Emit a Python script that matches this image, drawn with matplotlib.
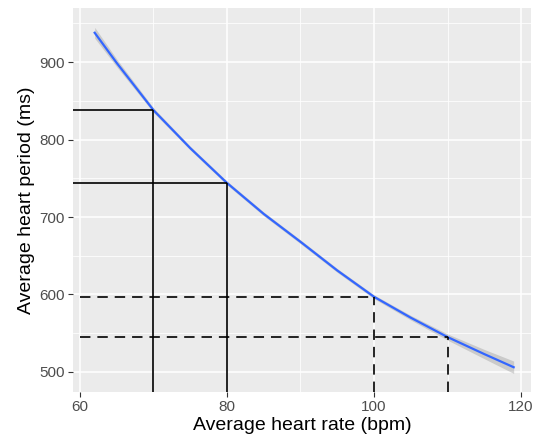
import numpy as np
import matplotlib
matplotlib.use("Agg")
import matplotlib.pyplot as plt

# Smoothed fit
hr = [62, 65, 70, 75, 80, 85, 90, 95, 100, 105, 110, 115, 119]
period = [938, 899, 838, 789, 744, 704, 668, 631, 597, 570, 545, 523, 506]
se = [7, 5, 3, 2.5, 2.5, 2.5, 2.5, 2.5, 2.5, 3, 4, 6, 8]

# Reference lines
solid_hr = [70, 80]
solid_period = [838, 744]
dashed_hr = [100, 110]
dashed_period = [597, 545]

xticks = [60, 80, 100, 120]
yticks = [500, 600, 700, 800, 900]

plt.rcParams['font.family'] = ['Liberation Sans', 'DejaVu Sans']

fig = plt.figure(figsize=(5.34, 4.45), dpi=100)
ax = fig.add_axes([73/534, 1-392/445, (531-73)/534, (392-8)/445])
ax.set_facecolor('#EBEBEB')
xlim = (59.05, 121.36)
ylim = (474, 970)
ax.set_xlim(*xlim)
ax.set_ylim(*ylim)

ax.set_xticks(xticks)
ax.set_yticks(yticks)
ax.set_xticks([70, 90, 110], minor=True)
ax.set_yticks([550, 650, 750, 850, 950], minor=True)
ax.grid(True, which='major', color='white', lw=1.1)
ax.grid(True, which='minor', color='white', lw=0.55)
ax.set_axisbelow(True)
for s in ax.spines.values():
    s.set_visible(False)
ax.tick_params(which='major', length=3.5, width=0.8, color='#333333',
               labelcolor='#4D4D4D', labelsize=11, pad=2.5)
ax.tick_params(which='minor', length=0)

hr_a = np.array(hr, float)
p_a = np.array(period, float)
se_a = np.array(se, float)
ax.fill_between(hr_a, p_a - se_a, p_a + se_a, color='#999999', alpha=0.4, lw=0, zorder=2)
ax.plot(hr_a, p_a, color='#3366FF', lw=1.6, zorder=3)

for x, y in zip(solid_hr, solid_period):
    ax.plot([x, x], [ylim[0], y], color='black', lw=1.2, zorder=4, solid_capstyle='butt')
    ax.plot([xlim[0], x], [y, y], color='black', lw=1.2, zorder=4, solid_capstyle='butt')
dash = (0, (7.5/1.2, 5/1.2))
for x, y in zip(dashed_hr, dashed_period):
    ax.plot([x, x], [ylim[0], y], color='black', lw=1.2, ls=dash, zorder=4)
    ax.plot([60, x], [y, y], color='black', lw=1.2, ls=dash, zorder=4)

ax.set_xlabel('Average heart rate (bpm)', fontsize=14, labelpad=2)
ax.set_ylabel('Average heart period (ms)', fontsize=14, labelpad=3)

fig.savefig('out.png', dpi=100)
